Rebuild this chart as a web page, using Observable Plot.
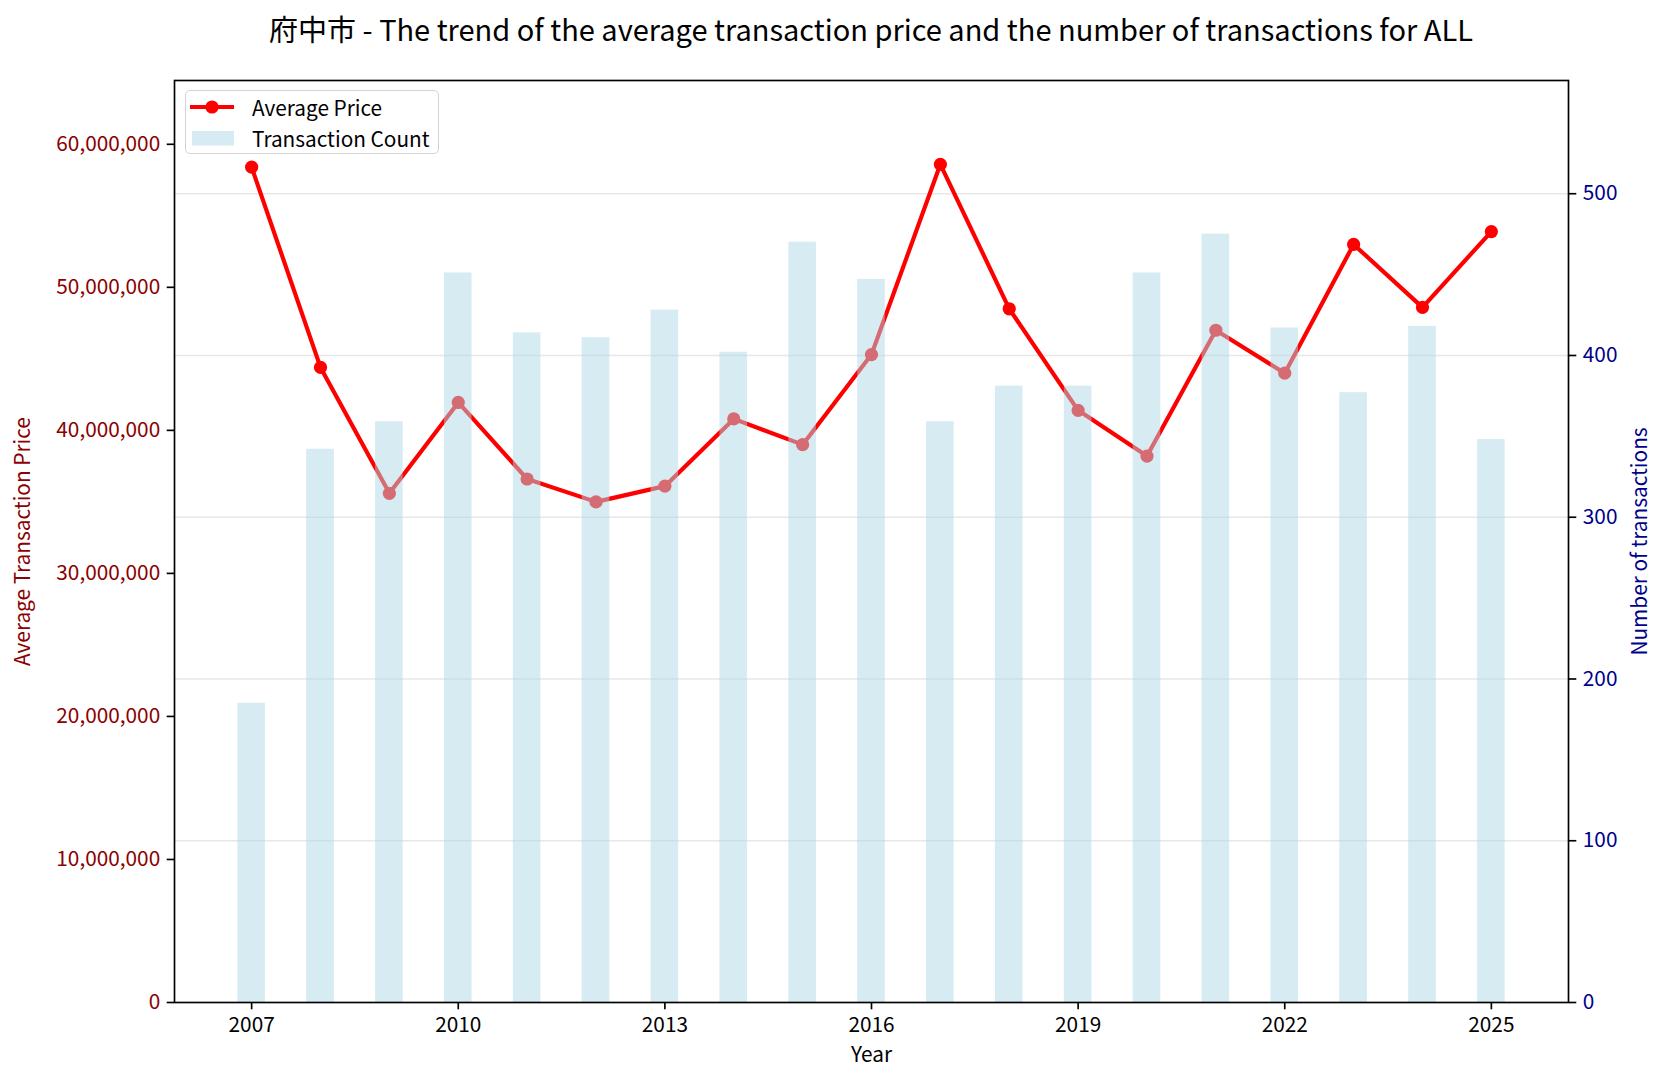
<!DOCTYPE html>
<html>
<head>
<meta charset="utf-8">
<script src="https://cdn.jsdelivr.net/npm/d3@7"></script>
<script src="https://cdn.jsdelivr.net/npm/@observablehq/plot@0.6"></script>
<style>
  body { margin: 0; background: #fff; }
  #chart { position: relative; width: 1666px; height: 1082px; font-family: 'Noto Sans CJK JP', 'Noto Sans', sans-serif; }
  #chart svg { position: absolute; left: 0; top: 0; }
  #title { position: absolute; left: 174px; width: 1394px; top: -1px; height: 58px; line-height: 58px;
           text-align: center; font-size: 29px; color: #000; white-space: nowrap; }
  #legend { position: absolute; left: 185px; top: 90px; width: 254px; height: 64px; box-sizing: border-box;
            border: 1.6px solid #d4d4d4; border-radius: 5px; background: rgba(255,255,255,0.8); font-size: 20.8px; }
  #legend svg { position: absolute; left: 0; top: 0; }
  #legend .lab { position: absolute; left: 66px; height: 30px; line-height: 30px; white-space: nowrap; color: #000; }
</style>
</head>
<body>
<div id="chart">
  <div id="title">府中市 - The trend of the average transaction price and the number of transactions for ALL</div>
</div>
<script>
// Yearly figures for Fuchu city (all property types)
const years = [2007, 2008, 2009, 2010, 2011, 2012, 2013, 2014, 2015, 2016, 2017, 2018, 2019, 2020, 2021, 2022, 2023, 2024, 2025];
const avgPrice = [58400000, 44400000, 35600000, 41950000, 36600000, 35000000, 36100000, 40800000, 39000000, 45300000,
                  58600000, 48500000, 41400000, 38200000, 47000000, 44000000, 53000000, 48600000, 53900000];
const txCount = [185, 342, 359, 451, 414, 411, 428, 402, 470, 447, 359, 381, 381, 451, 475, 417, 377, 418, 348];

const yearTicks = [2007, 2010, 2013, 2016, 2019, 2022, 2025];
const priceTicks = [0, 10000000, 20000000, 30000000, 40000000, 50000000, 60000000];
const countTicks = [0, 100, 200, 300, 400, 500];

const rows = years.map((year, i) => ({year, price: avgPrice[i], count: txCount[i]}));

// Headroom above the tallest point / bar on each axis
const priceMax = d3.max(avgPrice) * 1.1;
const countMax = d3.max(txCount) * 1.2;
// Counts share the y scale by mapping the count range onto the price range
const k = priceMax / countMax;

// Horizontal padding: 5% of the span covered by the bars
const barHalf = 0.2;
const span = (d3.max(years) + barHalf) - (d3.min(years) - barHalf);
const xDomain = [d3.min(years) - barHalf - span * 0.05, d3.max(years) + barHalf + span * 0.05];

const font = 20.8;
const lw = 1.67;

const chart = Plot.plot({
  width: 1666,
  height: 1082,
  marginLeft: 174,
  marginRight: 98,
  marginTop: 80,
  marginBottom: 80,
  style: {fontFamily: "'Noto Sans CJK JP', 'Noto Sans', sans-serif", background: "transparent"},
  x: {type: "linear", domain: xDomain, axis: null},
  y: {domain: [0, priceMax], axis: null},
  marks: [
    Plot.ruleY(countTicks.slice(1).map(c => c * k), {stroke: "#b0b0b0", strokeOpacity: 0.3, strokeWidth: lw}),
    Plot.line(rows, {x: "year", y: "price", stroke: "red", strokeWidth: 4.17}),
    Plot.dot(rows, {x: "year", y: "price", r: 6.6, fill: "red", stroke: "none"}),
    Plot.rectY(rows, {x1: d => d.year - barHalf, x2: d => d.year + barHalf, y1: 0, y2: d => d.count * k,
                      fill: "#add8e6", fillOpacity: 0.5}),
    Plot.frame({stroke: "black", strokeWidth: lw}),
    Plot.axisX({ticks: yearTicks, tickFormat: d => String(d), tickSize: 7.3, tickPadding: 7, fontSize: font,
                stroke: "black", strokeWidth: lw, fill: "black", label: null}),
    Plot.axisY({anchor: "left", ticks: priceTicks, tickFormat: d3.format(","), tickSize: 7.3, tickPadding: 7,
                fontSize: font, stroke: "black", strokeWidth: lw, fill: "#8b0000", label: null}),
    Plot.axisY({anchor: "right", ticks: countTicks.map(c => c * k), tickFormat: v => String(Math.round(v / k)),
                tickSize: 7.3, tickPadding: 7, fontSize: font, stroke: "black", strokeWidth: lw, fill: "#00008b", label: null}),
    Plot.text(["Year"], {frameAnchor: "bottom", dy: 53, lineAnchor: "middle", fontSize: font, fill: "black"}),
    Plot.text(["Average Transaction Price"], {frameAnchor: "left", dx: -151, rotate: -90, textAnchor: "middle",
                                              lineAnchor: "middle", fontSize: font, fill: "#8b0000"}),
    Plot.text(["Number of transactions"], {frameAnchor: "right", dx: 72, rotate: -90, textAnchor: "middle",
                                           lineAnchor: "middle", fontSize: font, fill: "#00008b"})
  ]
});

const root = document.getElementById("chart");
root.insertBefore(chart, root.firstChild);

// Legend box in the upper-left corner of the axes
const legend = document.createElement("div");
legend.id = "legend";
legend.innerHTML = `
  <svg width="254" height="64">
    <line x1="4" y1="16" x2="48" y2="16" stroke="red" stroke-width="4.17"/>
    <circle cx="26" cy="16" r="6.6" fill="red"/>
    <rect x="6" y="40" width="42" height="14.5" fill="#add8e6" fill-opacity="0.5"/>
  </svg>
  <div class="lab" style="top:1px">Average Price</div>
  <div class="lab" style="top:32px">Transaction Count</div>`;
root.appendChild(legend);
</script>
</body>
</html>
